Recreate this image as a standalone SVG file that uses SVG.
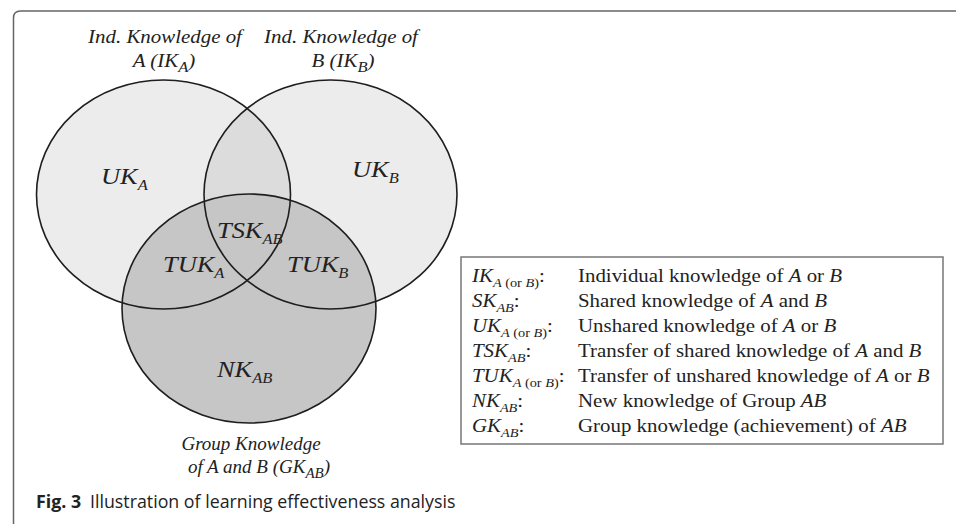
<svg xmlns="http://www.w3.org/2000/svg" width="956" height="524" viewBox="0 0 956 524">
<style>
.t{font-family:"Liberation Serif","Times New Roman",serif;fill:#222;font-size:19px}
.i{font-style:italic}
.lbl{font-family:"Liberation Serif","Times New Roman",serif;fill:#222;font-size:24px;font-style:italic}
.sub{font-size:15px}
.lsub{font-size:13px}
.edge{fill:none;stroke:#1e1e1e;stroke-width:1.6}
.cap{font-family:"Open Sans","Noto Sans",sans-serif;font-size:17.8px;fill:#222}
</style>
<defs>
<clipPath id="clipA"><ellipse cx="163.5" cy="194.5" rx="127" ry="114.5"/></clipPath>
</defs>
<rect width="956" height="524" fill="#fff"/>
<path d="M13.5 524 V18 Q13.5 11 20.5 11 H956" fill="none" stroke="#666" stroke-width="1.5"/>

<g id="fills">
<ellipse cx="163.5" cy="194.5" rx="127" ry="114.5" fill="#ececec"/>
<ellipse cx="330.5" cy="194.5" rx="126.5" ry="114.5" fill="#ececec"/>
<ellipse cx="330.5" cy="194.5" rx="126.5" ry="114.5" fill="#dcdcdc" clip-path="url(#clipA)"/>
<ellipse cx="249" cy="308.5" rx="127" ry="114.5" fill="#c6c6c6"/>
</g>

<g id="node-A">
<ellipse class="edge" cx="163.5" cy="194.5" rx="127" ry="114.5"/>
<text class="t i" text-anchor="middle" transform="translate(165 43) scale(1.1 1)">Ind. Knowledge of</text>
<text class="t i" text-anchor="middle" transform="translate(164 67) scale(1.1 1)">A (IK<tspan class="sub" dy="5">A</tspan><tspan dy="-5">)</tspan></text>
<text class="lbl" transform="translate(101 184) scale(1.1 1)">UK<tspan class="sub" dy="6">A</tspan></text>
</g>

<g id="node-B">
<ellipse class="edge" cx="330.5" cy="194.5" rx="126.5" ry="114.5" stroke-width="2"/>
<text class="t i" text-anchor="middle" transform="translate(341 43) scale(1.1 1)">Ind. Knowledge of</text>
<text class="t i" text-anchor="middle" transform="translate(343 67) scale(1.1 1)">B (IK<tspan class="sub" dy="5">B</tspan><tspan dy="-5">)</tspan></text>
<text class="lbl" transform="translate(352 177) scale(1.1 1)">UK<tspan class="sub" dy="6">B</tspan></text>
</g>

<g id="node-C">
<ellipse class="edge" cx="249" cy="308.5" rx="127" ry="114.5"/>
<text class="lbl" transform="translate(217 377) scale(1.1 1)">NK<tspan class="sub" dy="6">AB</tspan></text>
<text class="t i" text-anchor="middle" transform="translate(251 450)">Group Knowledge</text>
<text class="t i" text-anchor="middle" transform="translate(259 473)">of A and B (GK<tspan class="sub" dy="5">AB</tspan><tspan dy="-5">)</tspan></text>
</g>

<g id="regions">
<text class="lbl" transform="translate(217 238) scale(1.1 1)">TSK<tspan class="sub" dy="6">AB</tspan></text>
<text class="lbl" transform="translate(163 272) scale(1.1 1)">TUK<tspan class="sub" dy="6">A</tspan></text>
<text class="lbl" transform="translate(287 272) scale(1.1 1)">TUK<tspan class="sub" dy="6">B</tspan></text>
</g>

<g id="connectors"></g>

<g id="legend">
<rect x="461" y="257" width="482" height="187" fill="#fff" stroke="#777" stroke-width="1.5"/>
<text class="t" transform="translate(472 282) scale(1.1 1)"><tspan class="i">IK</tspan><tspan class="lsub" dy="5"><tspan class="i">A</tspan> (or <tspan class="i">B</tspan>)</tspan><tspan dy="-5">:</tspan></text>
<text class="t" transform="translate(472 307) scale(1.1 1)"><tspan class="i">SK</tspan><tspan class="lsub i" dy="5">AB</tspan><tspan dy="-5">:</tspan></text>
<text class="t" transform="translate(472 332) scale(1.1 1)"><tspan class="i">UK</tspan><tspan class="lsub" dy="5"><tspan class="i">A</tspan> (or <tspan class="i">B</tspan>)</tspan><tspan dy="-5">:</tspan></text>
<text class="t" transform="translate(472 357) scale(1.1 1)"><tspan class="i">TSK</tspan><tspan class="lsub i" dy="5">AB</tspan><tspan dy="-5">:</tspan></text>
<text class="t" transform="translate(472 382) scale(1.1 1)"><tspan class="i">TUK</tspan><tspan class="lsub" dy="5"><tspan class="i">A</tspan> (or <tspan class="i">B</tspan>)</tspan><tspan dy="-5">:</tspan></text>
<text class="t" transform="translate(472 407) scale(1.1 1)"><tspan class="i">NK</tspan><tspan class="lsub i" dy="5">AB</tspan><tspan dy="-5">:</tspan></text>
<text class="t" transform="translate(472 432) scale(1.1 1)"><tspan class="i">GK</tspan><tspan class="lsub i" dy="5">AB</tspan><tspan dy="-5">:</tspan></text>

<text class="t" transform="translate(578 282) scale(1.1 1)">Individual knowledge of <tspan class="i">A</tspan> or <tspan class="i">B</tspan></text>
<text class="t" transform="translate(578 307) scale(1.1 1)">Shared knowledge of <tspan class="i">A</tspan> and <tspan class="i">B</tspan></text>
<text class="t" transform="translate(578 332) scale(1.1 1)">Unshared knowledge of <tspan class="i">A</tspan> or <tspan class="i">B</tspan></text>
<text class="t" transform="translate(578 357) scale(1.1 1)">Transfer of shared knowledge of <tspan class="i">A</tspan> and <tspan class="i">B</tspan></text>
<text class="t" transform="translate(578 382) scale(1.1 1)">Transfer of unshared knowledge of <tspan class="i">A</tspan> or <tspan class="i">B</tspan></text>
<text class="t" transform="translate(578 407) scale(1.1 1)">New knowledge of Group <tspan class="i">AB</tspan></text>
<text class="t" transform="translate(578 432) scale(1.1 1)">Group knowledge (achievement) of <tspan class="i">AB</tspan></text>
</g>

<text class="cap" x="36" y="508"><tspan font-weight="bold">Fig. 3</tspan><tspan x="90">Illustration of learning effectiveness analysis</tspan></text>
</svg>
